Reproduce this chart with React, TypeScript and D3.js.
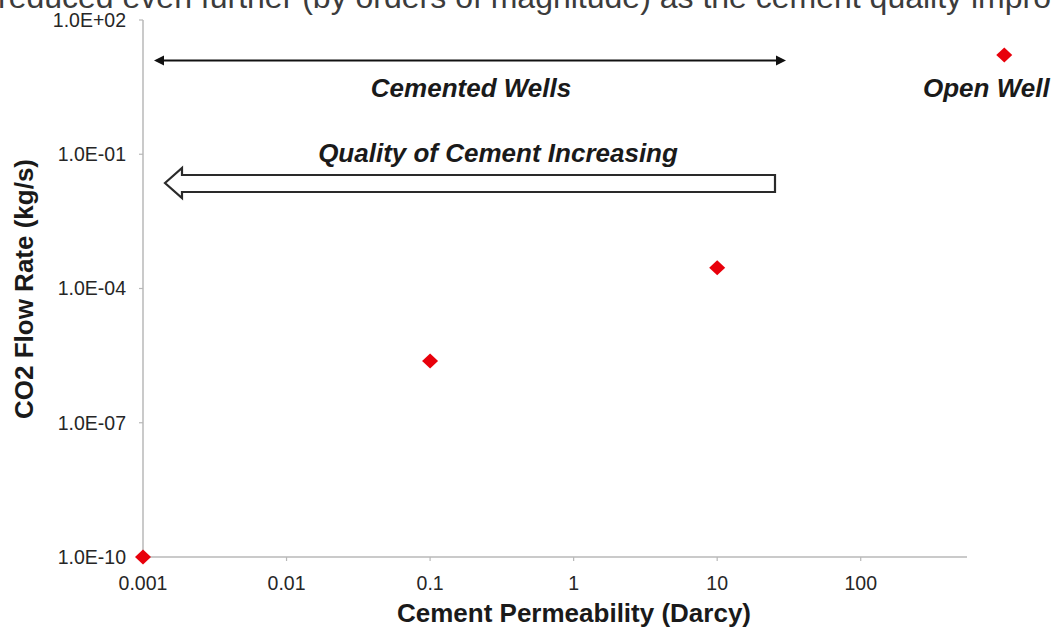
import React from "react";
import * as d3 from "d3";

const xTickValues = [0.001, 0.01, 0.1, 1, 10, 100];
const xTickLabels = ["0.001", "0.01", "0.1", "1", "10", "100"];
const yTickValues = [1e-10, 1e-7, 1e-4, 1e-1, 1e2];
const yTickLabels = ["1.0E-10", "1.0E-07", "1.0E-04", "1.0E-01", "1.0E+02"];
const permeability = [0.001, 0.1, 10, 1000];
const flowRate = [1e-10, 2.4e-6, 2.9e-4, 16.6];

const topCaption = "reduced even further (by orders of magnitude) as the cement quality impro";

const W = 1055;
const H = 628;
const FONT = "'Liberation Sans', Arial, Helvetica, sans-serif";

export default function App() {
  const x = d3.scaleLog().domain([0.001, 550]).range([143, 967]);
  const y = d3.scaleLog().domain([1e-10, 1e2]).range([557, 20]);
  const axisColor = "#b8b8b8";

  const diamond = (cx: number, cy: number) =>
    `M${cx},${cy - 7.5} L${cx + 8},${cy} L${cx},${cy + 7.5} L${cx - 8},${cy} Z`;

  const [x0, x1] = x.range();
  const [yb, yt] = y.range();

  return (
    <svg
      width={W}
      height={H}
      viewBox={`0 0 ${W} ${H}`}
      style={{ position: "absolute", left: 0, top: 0, background: "#fff" }}
      fontFamily={FONT}
    >
      <rect x={0} y={0} width={W} height={H} fill="#fff" />
      {/* caption remnant at top */}
      <text x={-2} y={8} fontSize={32} fill="#3c3c3c">
        {topCaption}
      </text>

      {/* axes */}
      <line x1={x0} x2={x0} y1={yt} y2={yb} stroke={axisColor} strokeWidth={1.5} />
      <line x1={x0} x2={x1} y1={yb} y2={yb} stroke={axisColor} strokeWidth={1.5} />

      {yTickValues.map((v, i) => (
        <g key={"yt" + i}>
          <line x1={x0 - 4} x2={x0} y1={y(v)} y2={y(v)} stroke={axisColor} strokeWidth={1.2} />
          <text
            x={126}
            y={y(v)}
            dy="0.35em"
            textAnchor="end"
            fontSize={19.5}
            fill="#262626"
          >
            {yTickLabels[i]}
          </text>
        </g>
      ))}

      {xTickValues.map((v, i) => (
        <g key={"xt" + i}>
          <line x1={x(v)} x2={x(v)} y1={yb} y2={yb + 4} stroke={axisColor} strokeWidth={1.2} />
          <text x={x(v)} y={590} textAnchor="middle" fontSize={19.5} fill="#262626">
            {xTickLabels[i]}
          </text>
        </g>
      ))}

      {/* axis titles */}
      <text
        x={574}
        y={622}
        textAnchor="middle"
        fontSize={26}
        fontWeight="bold"
        fill="#1a1a1a"
      >
        Cement Permeability (Darcy)
      </text>
      <text
        transform={`translate(33,289) rotate(-90)`}
        textAnchor="middle"
        fontSize={26}
        fontWeight="bold"
        fill="#1a1a1a"
      >
        CO2 Flow Rate (kg/s)
      </text>

      {/* double-headed arrow */}
      <line x1={162} x2={778} y1={60.5} y2={60.5} stroke="#111" strokeWidth={2.2} />
      <path d="M154,60.5 L164,55.5 L164,65.5 Z" fill="#111" />
      <path d="M786,60.5 L776,55.5 L776,65.5 Z" fill="#111" />
      <text
        x={471}
        y={97}
        textAnchor="middle"
        fontSize={26}
        fontWeight="bold"
        fontStyle="italic"
        fill="#1a1a1a"
      >
        Cemented Wells
      </text>

      {/* block arrow */}
      <text
        x={498}
        y={162}
        textAnchor="middle"
        fontSize={26}
        fontWeight="bold"
        fontStyle="italic"
        fill="#1a1a1a"
      >
        Quality of Cement Increasing
      </text>
      <path
        d="M165,183 L182,168 L182,175 L775,175 L775,192 L182,192 L182,198 Z"
        fill="#fff"
        stroke="#2a2a2a"
        strokeWidth={2.2}
        strokeLinejoin="miter"
      />

      <text
        x={923}
        y={97}
        fontSize={26}
        fontWeight="bold"
        fontStyle="italic"
        fill="#1a1a1a"
      >
        Open Well
      </text>

      {/* data points */}
      {permeability.map((p, i) => (
        <path key={"pt" + i} d={diamond(x(p), y(flowRate[i]))} fill="#e8000b" />
      ))}
    </svg>
  );
}
